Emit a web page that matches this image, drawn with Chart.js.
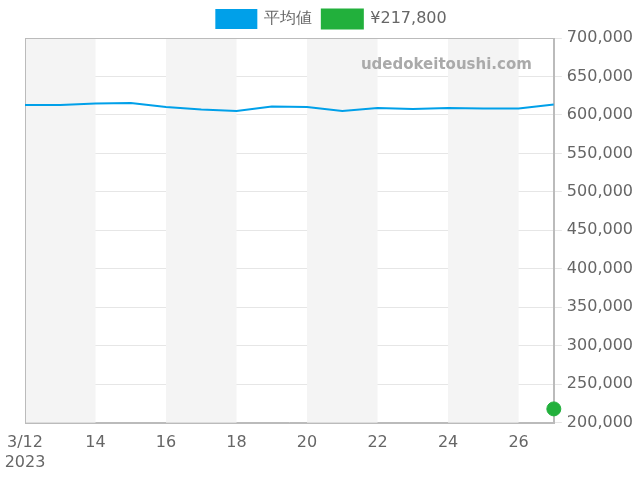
<!DOCTYPE html>
<html><head><meta charset="utf-8">
<script src="https://cdn.jsdelivr.net/npm/chart.js@4"></script>
<style>html,body{margin:0;padding:0;background:#fff}#w{width:640px;height:480px}</style>
</head><body><div id="w"><canvas id="c"></canvas></div>
<script>
const days = [12,13,14,15,16,17,18,19,20,21,22,23,24,25,26,27];
const avgValues = [612800,612800,614700,615400,610200,606900,605000,610800,610200,605000,608900,607600,608900,608300,608300,613500];
const pointDay = [27];
const pointValue = [217800];
const bandStarts = [12,16,20,24];
const seriesNames = ['平均値','¥217,800'];

const bands = {
  id:'bands',
  beforeDatasetsDraw(chart){
    const {ctx, chartArea:a, scales:{x}} = chart;
    ctx.save(); ctx.fillStyle='#f4f4f4';
    bandStarts.forEach(s=>{
      const x0=x.getPixelForValue(s), x1=x.getPixelForValue(s+2);
      ctx.fillRect(x0,a.top,x1-x0,a.bottom-a.top);
    });
    ctx.strokeStyle='#bbb'; ctx.lineWidth=1;
    ctx.strokeRect(Math.round(a.left)+0.5,Math.round(a.top)+0.5,Math.round(a.right-a.left),Math.round(a.bottom-a.top));
    ctx.fillStyle='#aaa'; ctx.font='bold 15px "DejaVu Sans"'; ctx.textAlign='right'; ctx.textBaseline='middle';
    ctx.fillText('udedokeitoushi.com', a.right-22, a.top+27);
    ctx.restore();
  }
};

new Chart(document.getElementById('c'),{
  type:'line',
  data:{datasets:[
    {label:seriesNames[0],data:days.map((d,i)=>({x:d,y:avgValues[i]})),borderColor:'#00a0e9',backgroundColor:'#00a0e9',borderWidth:2,pointRadius:0,tension:0},
    {label:seriesNames[1],data:pointDay.map((d,i)=>({x:d,y:pointValue[i]})),borderColor:'#22b03c',backgroundColor:'#22b03c',pointRadius:7,showLine:false,clip:false}
  ]},
  options:{
    responsive:true,maintainAspectRatio:false,animation:false,
    layout:{padding:{left:25,right:2,top:0,bottom:5}},
    plugins:{legend:{labels:{boxWidth:40,boxHeight:18,font:{size:16,family:'"DejaVu Sans"'},color:'#666'}},tooltip:{enabled:false}},
    scales:{
      x:{type:'linear',min:12,max:27,border:{color:'#bbb'},grid:{display:false},
        afterBuildTicks:s=>{s.ticks=s.ticks.filter(t=>t.value<27);},
        ticks:{stepSize:2,color:'#666',font:{size:16,family:'"DejaVu Sans"'},maxRotation:0,
          callback:v=>v===12?['3/12','2023']:String(v)}},
      y:{position:'right',min:200000,max:700000,border:{color:'#bbb'},grid:{color:'#e6e6e6'},
        ticks:{stepSize:50000,padding:5,color:'#666',font:{size:16,family:'"DejaVu Sans"'},callback:v=>v.toLocaleString('en-US')}}
    }
  },
  plugins:[bands]
});
</script></body></html>
